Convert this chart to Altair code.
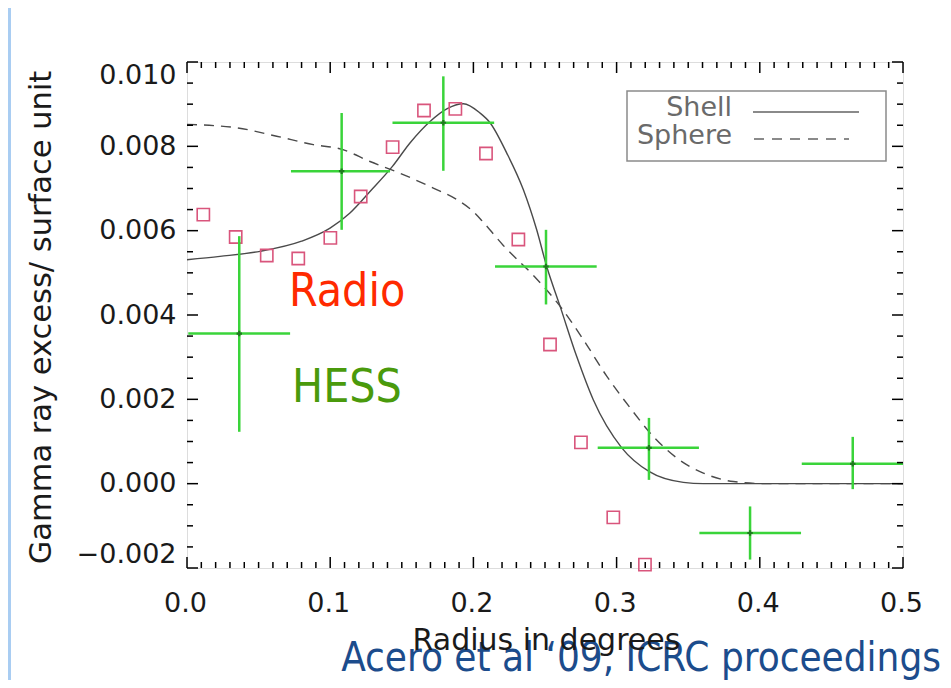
import altair as alt
import pandas as pd

# ---------------- data ----------------
radio_x = [0.0114, 0.0340, 0.0557, 0.0777, 0.1001, 0.1213, 0.1436, 0.1655,
           0.1874, 0.2088, 0.2314, 0.2535, 0.2751, 0.2977, 0.3198]
radio_y = [0.00638, 0.00585, 0.00541, 0.00534, 0.00583, 0.00681, 0.00798, 0.00885,
           0.00889, 0.00783, 0.00579, 0.00330, 0.00098, -0.00080, -0.00192]

hess_x = [0.0365, 0.1080, 0.1790, 0.2507, 0.3226, 0.3932, 0.4649]
hess_x_lo = [0.0009, 0.0726, 0.1435, 0.2151, 0.2868, 0.3578, 0.4293]
hess_x_hi = [0.0720, 0.1418, 0.2145, 0.2861, 0.3575, 0.4288, 0.5000]
hess_y = [0.00356, 0.00741, 0.00856, 0.00515, 0.00085, -0.00117, 0.00047]
hess_y_lo = [0.00123, 0.00602, 0.00742, 0.00425, 0.00009, -0.00180, -0.00013]
hess_y_hi = [0.00587, 0.00879, 0.00966, 0.00602, 0.00156, -0.00054, 0.00111]

shell_x = [0.0, 0.0230, 0.0510, 0.0800, 0.0999, 0.1138, 0.1278, 0.1436, 0.1557,
           0.1697, 0.1814, 0.1930, 0.2046, 0.2116, 0.2233, 0.2349, 0.2442, 0.2512,
           0.2605, 0.2721, 0.2837, 0.3036, 0.3226, 0.3466, 0.3606, 0.5]
shell_y = [0.00531, 0.00539, 0.00551, 0.00575, 0.00606, 0.00642, 0.00693, 0.00753, 0.00808,
           0.00859, 0.00889, 0.00901, 0.00879, 0.00856, 0.00784, 0.00697, 0.00602, 0.00515,
           0.00421, 0.00302, 0.00199, 0.00085, 0.00029, 0.00003, 0.0, 0.0]

sphere_x = [0.0, 0.0347, 0.0626, 0.0882, 0.1080, 0.1278, 0.1510, 0.1720, 0.1883, 0.2000,
            0.2069, 0.2209, 0.2418, 0.2605, 0.2767, 0.2931, 0.3094, 0.3256, 0.3420,
            0.3606, 0.3815, 0.4048, 0.5]
sphere_y = [0.00852, 0.00844, 0.00824, 0.00804, 0.00793, 0.00764, 0.00733, 0.00701, 0.00674,
            0.00645, 0.00620, 0.00565, 0.00494, 0.00421, 0.00342, 0.00255, 0.00180, 0.00112,
            0.00061, 0.00025, 0.00005, 0.0, 0.0]

x_major = [0.0, 0.1, 0.2, 0.3, 0.4, 0.5]
x_minor = [round(i * 0.01, 2) for i in range(51) if i % 10 != 0]
y_major = [-0.002, 0.000, 0.002, 0.004, 0.006, 0.008, 0.010]
y_minor = [round(-0.002 + i * 0.0005, 4) for i in range(25) if i % 4 != 0]

x_title = "Radius in degrees"
y_title = "Gamma ray excess/ surface unit"
legend_labels = ["Shell", "Sphere"]
note_radio = "Radio"
note_hess = "HESS"
credit = "Acero et al \u201809, ICRC proceedings"

# ---------------- styling ----------------
W, H = 716, 506
FONT = "DejaVu Sans"
TXT = "#1a1a1a"
CURVE = "#4a4a4a"
GREEN = "#3ad43a"
PINK = "#d9557c"

xs = alt.Scale(domain=[0, 0.5], nice=False, zero=False)
ys = alt.Scale(domain=[-0.002, 0.010], nice=False, zero=False)

xaxis = alt.Axis(title=x_title, values=x_major, format=".1f", ticks=False, tickSize=0,
                 domain=False, grid=False, labelFont=FONT, labelFontSize=27, labelColor=TXT,
                 labelPadding=22, labelOffset=-2, labelOverlap=False, labelFlush=False,
                 titleFont=FONT, titleFontSize=30, titleFontWeight="normal", titleColor=TXT,
                 titleX=359, titleY=81, titleBaseline="alphabetic", titleAlign="center", zindex=1)
yaxis = alt.Axis(title=y_title, values=y_major, format=".3f", ticks=False, tickSize=0,
                 domain=False, grid=False, labelFont=FONT, labelFontSize=27, labelColor=TXT,
                 labelPadding=11, labelOverlap=False, labelFlush=True,
                 titleFont=FONT, titleFontSize=30.5, titleFontWeight="normal", titleColor=TXT,
                 titleX=-146, titleY=255, titleAngle=270, titleBaseline="middle",
                 titleAlign="center", zindex=1)


def X(f):
    return alt.X(f, type="quantitative", scale=xs, axis=xaxis)


def Y(f):
    return alt.Y(f, type="quantitative", scale=ys, axis=yaxis)


radio_df = pd.DataFrame({"x": radio_x, "y": radio_y})
hess_df = pd.DataFrame({"x": hess_x, "xlo": hess_x_lo, "xhi": hess_x_hi,
                        "y": hess_y, "ylo": hess_y_lo, "yhi": hess_y_hi})
shell_df = pd.DataFrame({"x": shell_x, "y": shell_y})
sphere_df = pd.DataFrame({"x": sphere_x, "y": sphere_y})
xmaj_df = pd.DataFrame({"v": x_major})
xmin_df = pd.DataFrame({"v": x_minor})
ymaj_df = pd.DataFrame({"v": y_major})
ymin_df = pd.DataFrame({"v": y_minor})
one = pd.DataFrame({"k": [0]})

layers = []

# left blue page stripe
layers.append(alt.Chart(one).mark_rect(color="#a9cdf2").encode(
    x=alt.value(-179), x2=alt.value(-176), y=alt.value(-54), y2=alt.value(618)))

# curves
layers.append(alt.Chart(shell_df).mark_line(color=CURVE, strokeWidth=1.4, interpolate="monotone")
              .encode(x=X("x"), y=Y("y")))
layers.append(alt.Chart(sphere_df).mark_line(color=CURVE, strokeWidth=1.4, strokeDash=[10, 7],
                                             interpolate="monotone")
              .encode(x=X("x"), y=Y("y")))

# radio squares
layers.append(alt.Chart(radio_df).mark_point(shape="square", size=150, filled=False,
                                             color=PINK, strokeWidth=1.6, opacity=1)
              .encode(x=X("x"), y=Y("y")))

# HESS crosses
layers.append(alt.Chart(hess_df).mark_rule(color=GREEN, strokeWidth=2.5)
              .encode(x=X("xlo"), x2="xhi", y=Y("y")))
layers.append(alt.Chart(hess_df).mark_rule(color=GREEN, strokeWidth=2.5)
              .encode(x=X("x"), y=Y("ylo"), y2="yhi"))
layers.append(alt.Chart(hess_df).mark_point(shape="cross", size=30, filled=True,
                                            color="#1f7a1f", opacity=1)
              .encode(x=X("x"), y=Y("y")))

# inward ticks on all four sides
MAJ, MIN = 11, 6
for df, L in ((xmaj_df, MAJ), (xmin_df, MIN)):
    layers.append(alt.Chart(df).mark_rule(color="black", strokeWidth=1.5)
                  .encode(x=X("v"), y=alt.value(H), y2=alt.value(H - L)))
    layers.append(alt.Chart(df).mark_rule(color="black", strokeWidth=1.5)
                  .encode(x=X("v"), y=alt.value(0), y2=alt.value(L)))
for df, L in ((ymaj_df, MAJ), (ymin_df, MIN)):
    layers.append(alt.Chart(df).mark_rule(color="black", strokeWidth=1.5)
                  .encode(y=Y("v"), x=alt.value(0), x2=alt.value(L)))
    layers.append(alt.Chart(df).mark_rule(color="black", strokeWidth=1.5)
                  .encode(y=Y("v"), x=alt.value(W), x2=alt.value(W - L)))

# legend box
layers.append(alt.Chart(one).mark_rect(fill="white", stroke="#8a8a8a", strokeWidth=1.5).encode(
    x=alt.value(440), x2=alt.value(699), y=alt.value(29), y2=alt.value(99)))
leg_df = pd.DataFrame({"t": legend_labels, "yy": [46, 74]})
layers.append(alt.Chart(leg_df).mark_text(font=FONT, fontSize=27, color="#6a6a6a", align="right",
                                          baseline="middle")
              .encode(text="t:N", x=alt.value(545), y=alt.Y("yy:Q", scale=None, axis=None)))
layers.append(alt.Chart(one).mark_rule(color="#8a8a8a", strokeWidth=2).encode(
    x=alt.value(566), x2=alt.value(672), y=alt.value(50)))
layers.append(alt.Chart(one).mark_rule(color="#8a8a8a", strokeWidth=2, strokeDash=[10, 8]).encode(
    x=alt.value(567), x2=alt.value(662), y=alt.value(77)))

# annotations
layers.append(alt.Chart(pd.DataFrame({"t": [note_radio]})).mark_text(
    font="DejaVu Sans Condensed, Liberation Sans", fontSize=46, color="#ff2a00",
    align="left", baseline="alphabetic").encode(text="t:N", x=alt.value(102), y=alt.value(244)))
layers.append(alt.Chart(pd.DataFrame({"t": [note_hess]})).mark_text(
    font="DejaVu Sans Condensed, Liberation Sans", fontSize=46, color="#4a9a0c",
    align="left", baseline="alphabetic").encode(text="t:N", x=alt.value(105), y=alt.value(340)))
layers.append(alt.Chart(pd.DataFrame({"t": [credit]})).mark_text(
    font="DejaVu Sans Condensed, Liberation Sans", fontSize=40, color="#1c4c8c",
    align="right", baseline="alphabetic").encode(text="t:N", x=alt.value(754), y=alt.value(609)))

chart = alt.layer(*layers).properties(
    width=W, height=H,
    autosize=alt.AutoSizeParams(type="none"),
    padding={"left": 179, "top": 54, "right": 40, "bottom": 112},
).configure_view(stroke="black", strokeWidth=2).configure(background="white")

chart.save("out.html", embed_options={"renderer": "svg", "actions": False})
